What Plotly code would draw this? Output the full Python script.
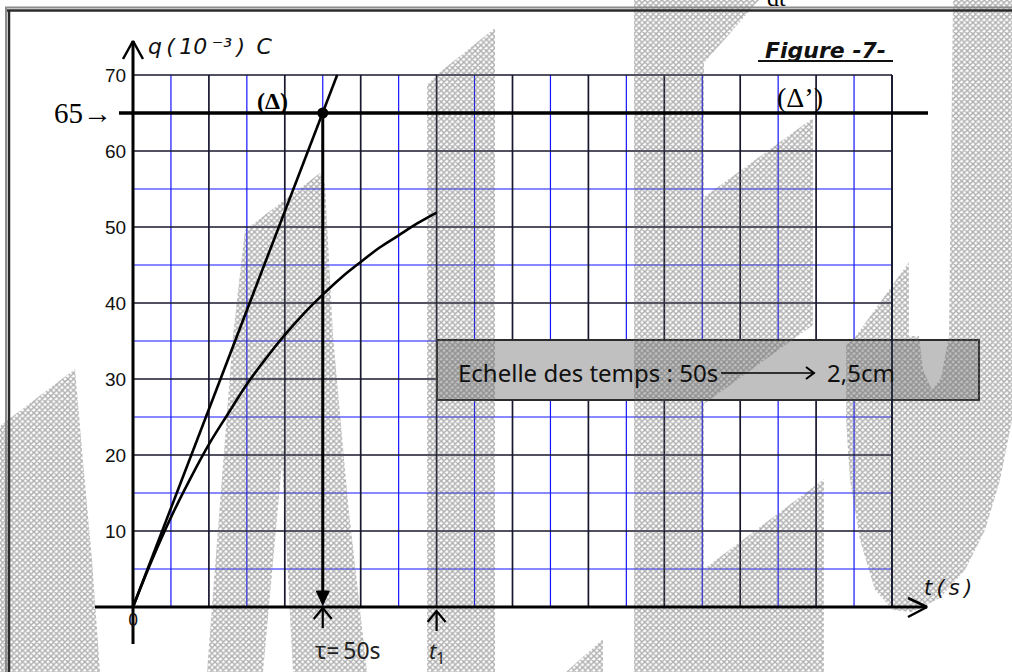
import plotly.graph_objects as go

# ---------------- data ----------------
t_curve = [0, 5, 10, 15, 20, 25, 30, 35, 40, 45, 50, 55, 60, 65, 70, 75, 80]
q_curve = [0, 6.2, 11.8, 16.8, 21.4, 25.4, 29.3, 32.7, 35.8, 38.6, 41.1, 43.4, 45.4, 47.3, 48.9, 50.5, 51.9]
t_tangent = [0, 53.8]
q_tangent = [0, 70]
tau = 50
t1 = 80
q_asym = 65
y_ticks = [10, 20, 30, 40, 50, 60, 70]
y_tick_labels = ["10", "20", "30", "40", "50", "60", "70"]
grid_t_max = 200
grid_q_max = 70
grid_t_step = 10
grid_q_step = 5

# ---------------- page geometry (pixels) ----------------
W, H = 1012, 672
X0, Y0 = 133, 607          # pixel of the origin
SX, SY = 3.795, 7.6        # pixels per second / per unit of q


def tx(px):
    return (px - X0) / SX


def qy(py):
    return (Y0 - py) / SY


def dx(p):
    return p / SX


def dy(p):
    return p / SY


fig = go.Figure()


def line_trace(xs, ys, color, width, shape="linear"):
    fig.add_trace(go.Scatter(x=xs, y=ys, mode="lines",
                             line=dict(color=color, width=width, shape=shape),
                             hoverinfo="skip", showlegend=False))


# ---------------- grid ----------------
BLUE = "#1414ff"
DARK = "#17172e"
k = 1
while k * grid_t_step <= grid_t_max:
    if k % 2 == 1:
        t = k * grid_t_step
        line_trace([t, t], [0, grid_q_max], BLUE, 1.2)
    k += 1
k = 1
while k * grid_q_step <= grid_q_max:
    if k % 2 == 1:
        q = k * grid_q_step
        line_trace([0, grid_t_max], [q, q], BLUE, 1.2)
    k += 1
k = 2
while k * grid_t_step <= grid_t_max:
    t = k * grid_t_step
    line_trace([t, t], [0, grid_q_max], DARK, 1.7)
    k += 2
k = 2
while k * grid_q_step <= grid_q_max:
    q = k * grid_q_step
    line_trace([0, grid_t_max], [q, q], DARK, 1.7)
    k += 2

# ---------------- scale box ----------------
box_t0, box_t1 = tx(437), tx(979)
box_q0, box_q1 = qy(400), qy(340)
fig.add_trace(go.Scatter(x=[box_t0, box_t1, box_t1, box_t0, box_t0],
                         y=[box_q0, box_q0, box_q1, box_q1, box_q0],
                         mode="lines", fill="toself", fillcolor="#c0c0c0",
                         line=dict(color="#2b2b2b", width=2),
                         hoverinfo="skip", showlegend=False))

# ---------------- watermark hatch (decoration, pixel polygons) ----------------
hatch_polys = [
    [(245, 230), (320, 173), (325, 185), (333, 336), (348, 503), (367, 672),
     (293, 672), (282, 463), (263, 672), (207, 672), (220, 503), (233, 336), (237, 300)],
    [(0, 426), (75, 369), (82, 450), (92, 560), (100, 672), (0, 672)],
    [(427, 85), (440, 72), (495, 28), (495, 672), (427, 672)],
    [(634, 0), (759, 0), (704, 63), (704, 672), (634, 672)],
    [(704, 197), (813, 118), (813, 325), (704, 404)],
    [(704, 569), (824, 479), (824, 672), (704, 672)],
    [(566, 672), (603, 639), (603, 672)],
    [(846, 345), (856, 336), (909, 262), (909, 336), (919, 336), (923, 370), (932, 390),
     (941, 378), (949, 336), (953, 0), (1012, 0), (1012, 420), (1000, 480), (985, 530),
     (965, 570), (940, 598), (912, 612), (893, 610), (875, 590), (860, 540), (850, 480),
     (846, 420)],
]
for poly in hatch_polys:
    xs = [tx(p[0]) for p in poly] + [tx(poly[0][0])]
    ys = [qy(p[1]) for p in poly] + [qy(poly[0][1])]
    fig.add_trace(go.Scatter(x=xs, y=ys, mode="lines", fill="toself",
                             fillcolor="rgba(0,0,0,0)",
                             fillpattern=dict(shape="x", fgcolor="#5e5e5e",
                                              bgcolor="rgba(0,0,0,0)", size=4, solidity=0.6),
                             line=dict(width=0, color="rgba(0,0,0,0)"),
                             hoverinfo="skip", showlegend=False))

# right border of the grid
line_trace([grid_t_max, grid_t_max], [0, grid_q_max], DARK, 1.7)

# ---------------- asymptote (Δ') ----------------
line_trace([tx(119), tx(928)], [q_asym, q_asym], "black", 3.5)

# ---------------- axes ----------------
line_trace([0, 0], [qy(644), qy(41)], "black", 3)
line_trace([-dx(10), 0, dx(10)], [qy(59), qy(41), qy(59)], "black", 2.5)
line_trace([tx(95), tx(927)], [0, 0], "black", 3)
line_trace([tx(908), tx(927), tx(908)], [dy(9), 0, -dy(10)], "black", 2.5)

# ---------------- tangent and curve ----------------
line_trace(t_tangent, q_tangent, "black", 2.6)
line_trace(t_curve, q_curve, "black", 2.6, shape="spline")

# vertical from the intersection down to tau
line_trace([tau, tau], [q_asym, dy(4)], "black", 3)
fig.add_trace(go.Scatter(x=[tau - dx(6.5), tau + dx(6.5), tau, tau - dx(6.5)],
                         y=[dy(16), dy(16), dy(2), dy(16)], mode="lines", fill="toself",
                         fillcolor="black", line=dict(color="black", width=1),
                         hoverinfo="skip", showlegend=False))
fig.add_trace(go.Scatter(x=[tau], y=[q_asym], mode="markers",
                         marker=dict(color="black", size=11), hoverinfo="skip", showlegend=False))

# small up arrows under the axis
for tv, tip in ((tau, 608), (t1, 611)):
    line_trace([tv, tv], [qy(tip), qy(tip + 20)], "black", 2.2)
    line_trace([tv - dx(9), tv, tv + dx(9)], [qy(tip + 11), qy(tip), qy(tip + 11)], "black", 2.2)

# scale arrow inside the box
line_trace([tx(721), tx(814)], [qy(373), qy(373)], "black", 1.5)
line_trace([tx(806), tx(814), tx(806)], [qy(367), qy(373), qy(379)], "black", 2)

# ---------------- annotations ----------------
ann = []


def text(x, y, s, xanchor="center", yanchor="middle", family="Liberation Sans", size=17, color="#111"):
    ann.append(dict(x=x, y=y, text=s, xanchor=xanchor, yanchor=yanchor, showarrow=False,
                    font=dict(family=family, size=size, color=color)))


for v, lab in zip(y_ticks, y_tick_labels):
    text(tx(128), v, lab, xanchor="right", size=19)
text(0, qy(619), "0", family="DejaVu Sans Condensed", size=18)
text(tx(146), qy(46), "<i>q\u2009(\u200910\u2009\u207b\u00b3\u2009)\u2009 C</i>",
     xanchor="left", family="DejaVu Sans", size=22)
text(tx(825), qy(50), "<b><i>Figure -7-</i></b>", family="DejaVu Sans", size=22)
text(tx(272), qy(101), "<b>(\u0394)</b>", family="Liberation Serif", size=24, color="black")
text(tx(800), qy(97), "(\u0394\u2019)", family="Liberation Serif", size=28, color="black")
text(tx(52), q_asym, f"{q_asym}\u2192", xanchor="left", family="Liberation Serif", size=29, color="black")
text(tx(456), qy(372), "Echelle des temps : 50s", xanchor="left", family="Noto Sans", size=24)
text(tx(825), qy(372), "2,5cm", xanchor="left", family="Noto Sans", size=24)
text(tx(348), qy(650), f"\u03c4=\u2009{tau}s", family="Noto Sans", size=23, color="#222")
text(t1, qy(652), "<i>t</i><sub>1</sub>", family="Noto Sans", size=22, color="#222")
text(tx(948), qy(588), "<i>t\u2009(\u2009s\u2009)</i>", family="DejaVu Sans", size=21)
text(tx(776), qy(13), "dt", yanchor="bottom", family="Liberation Serif", size=24, color="black")

# ---------------- frame (decoration) ----------------
def pline(x0, y0, x1, y1, color, width):
    return dict(type="line", xref="paper", yref="paper", x0=x0 / W, x1=x1 / W,
                y0=1 - y0 / H, y1=1 - y1 / H, line=dict(color=color, width=width), layer="above")


shapes = [
    pline(5, 7.5, W, 7.5, "#8c8c8c", 2),
    pline(5, 10.5, W, 10.5, "#2a2a2a", 2.5),
    pline(6, 7, 6, H, "#8c8c8c", 2),
    pline(9, 10, 9, H, "#2a2a2a", 2.5),
    pline(758, 61, 893, 61, "#111", 2),
]

fig.update_layout(
    width=W, height=H,
    margin=dict(l=0, r=0, t=0, b=0),
    paper_bgcolor="white", plot_bgcolor="white",
    xaxis=dict(range=[tx(0), tx(W)], visible=False, fixedrange=True),
    yaxis=dict(range=[qy(H), qy(0)], visible=False, fixedrange=True),
    showlegend=False,
    annotations=ann,
    shapes=shapes,
)

fig.write_html("out.html", config={"displayModeBar": False, "staticPlot": True},
               post_script="document.body.style.margin='0';document.body.style.overflow='hidden';")
